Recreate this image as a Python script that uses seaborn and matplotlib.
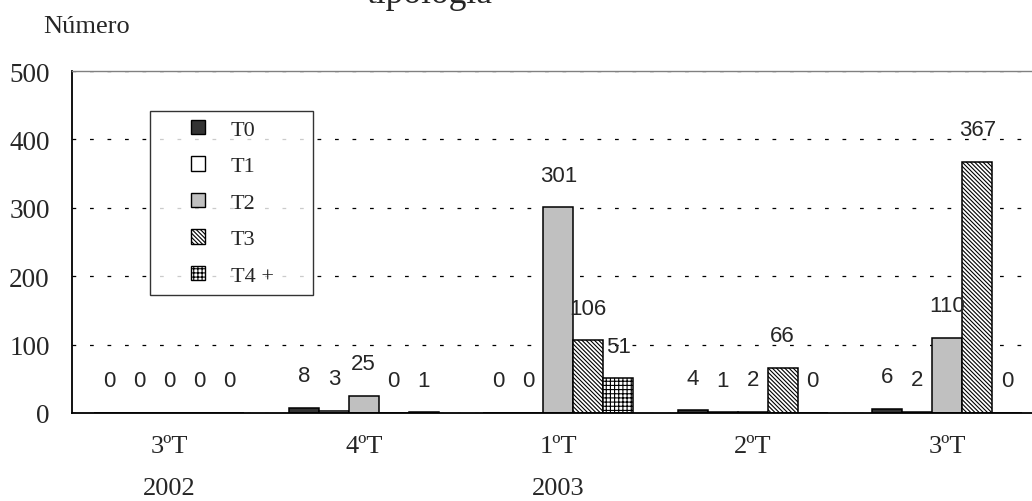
import matplotlib
matplotlib.use("Agg")
import matplotlib.pyplot as plt
from matplotlib.patches import Patch, Rectangle
from matplotlib.legend_handler import HandlerPatch
from matplotlib.ticker import FixedLocator
import seaborn as sns
import pandas as pd

# Quarterly counts by typology
periodos = ["3ºT\n2002", "4ºT", "1ºT\n2003", "2ºT", "3ºT"]
tipos = ["T0", "T1", "T2", "T3", "T4 +"]
t0 = [0, 8, 0, 4, 6]
t1 = [0, 3, 0, 1, 2]
t2 = [0, 25, 301, 2, 110]
t3 = [0, 0, 106, 66, 367]
t4 = [0, 1, 51, 0, 0]

series = {"T0": t0, "T1": t1, "T2": t2, "T3": t3, "T4 +": t4}
colores = {"T0": "#333333", "T1": "#ffffff", "T2": "#c0c0c0",
           "T3": "#ffffff", "T4 +": "#ffffff"}
tramas = {"T0": "", "T1": "", "T2": "", "T3": "\\" * 8, "T4 +": "++++"}

df = pd.DataFrame(
    [(p, t, series[t][i]) for t in tipos for i, p in enumerate(periodos)],
    columns=["periodo", "tipo", "n"],
)

sns.set_theme(style="white")
plt.rcParams["font.family"] = ["Liberation Serif", "DejaVu Serif"]
plt.rcParams["hatch.linewidth"] = 0.8
etiqueta_fuente = ["Liberation Sans Narrow", "Liberation Sans", "DejaVu Sans"]

fig = plt.figure(figsize=(10.32, 5.02), dpi=100)
ax = fig.add_axes([72 / 1032, 88 / 502, 972.5 / 1032, 342 / 502])

sns.barplot(data=df, x="periodo", y="n", hue="tipo", order=periodos,
            hue_order=tipos, palette=colores, saturation=1, width=0.77,
            edgecolor="black", linewidth=1.1, errorbar=None, legend=False,
            ax=ax)

for tipo, cont in zip(tipos, ax.containers):
    for barra in cont.patches:
        barra.set_hatch(tramas[tipo])
    ax.bar_label(cont, labels=[str(v) for v in series[tipo]], padding=15.5,
                 fontsize=16, family=etiqueta_fuente)

ax.set_xlim(-0.5, len(periodos) - 0.5)
ax.set_ylim(0, 500)
ax.set_yticks(range(0, 501, 100))
ax.set_xlabel("")
ax.set_ylabel("")

ax.set_axisbelow(True)
ax.yaxis.grid(True, linestyle=(0, (3, 11)), color="black", linewidth=0.9)
ax.xaxis.grid(False)

for lado in ["left", "bottom"]:
    ax.spines[lado].set_color("black")
    ax.spines[lado].set_linewidth(1.3)
ax.spines["top"].set_color("#808080")
ax.spines["top"].set_linewidth(1.0)
ax.spines["right"].set_visible(False)

ax.tick_params(axis="y", length=0, pad=16, labelsize=19.5)
ax.tick_params(axis="x", which="major", length=0, pad=16, labelsize=19)
ax.xaxis.set_minor_locator(FixedLocator([0.5, 1.5, 2.5, 3.5]))
ax.tick_params(axis="x", which="minor", direction="in", length=5,
               width=1, color="#808080")
for lbl in ax.get_xticklabels():
    lbl.set_linespacing(2.15)


def cuadro(legend, orig_handle, xdescent, ydescent, width, height, fontsize):
    lado = height
    return Rectangle((-xdescent + width / 2 - lado / 2, -ydescent), lado, lado)


handles = [Patch(facecolor=colores[t], edgecolor="black", hatch=tramas[t],
                 linewidth=1.0, label=t) for t in tipos]
leg = ax.legend(handles=handles, loc="upper left",
                bbox_to_anchor=(78 / 972.5, 302 / 342, 163 / 972.5, 0.0),
                mode="expand", borderaxespad=0, frameon=True, fancybox=False,
                edgecolor="black", fontsize=16, handlelength=3.5,
                handleheight=0.62, handletextpad=-0.26, labelspacing=0.74,
                borderpad=0.4,
                handler_map={Patch: HandlerPatch(patch_func=cuadro)})
leg.get_frame().set_linewidth(1.0)

fig.text(43 / 1032, 1 - 33 / 502, "Número", fontsize=19, va="baseline",
         ha="left")
fig.text(430 / 1032, 1 - 3 / 502, "tipología", fontsize=25.5, va="baseline",
         ha="center")

fig.savefig("out.png", dpi=100)
